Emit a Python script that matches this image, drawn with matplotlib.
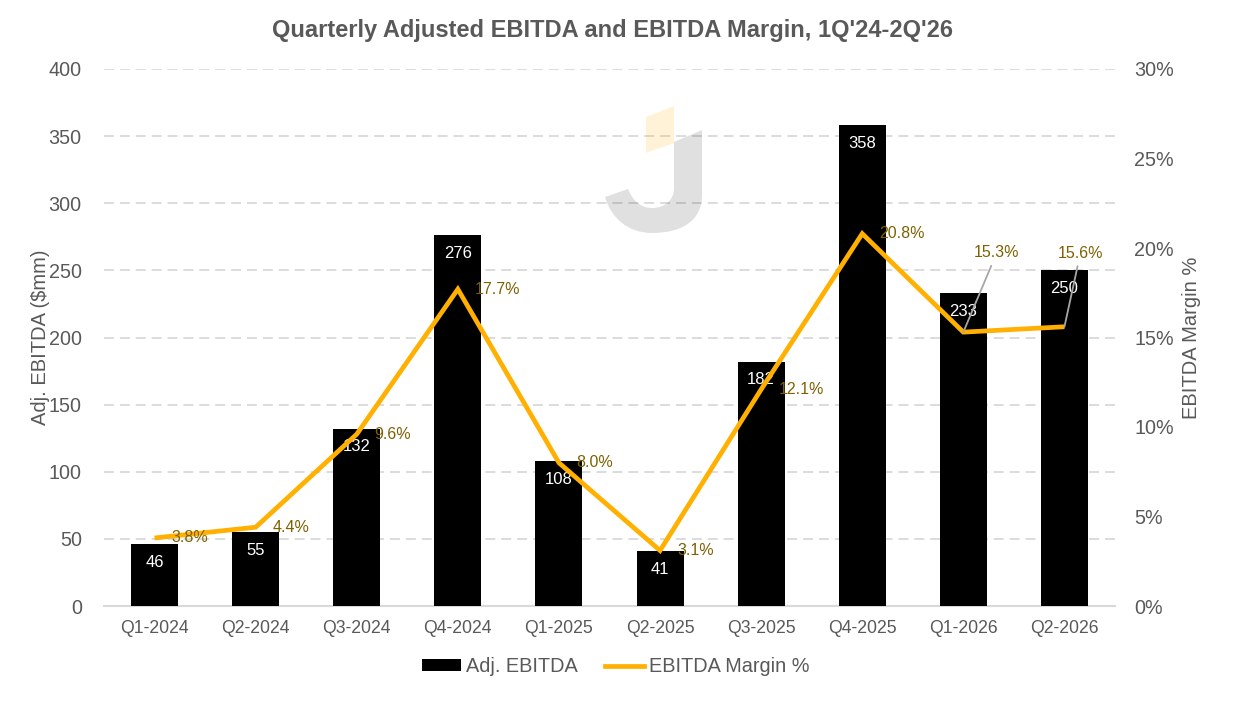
import numpy as np
import matplotlib
matplotlib.use("Agg")
import matplotlib.pyplot as plt
from matplotlib.patches import Patch, PathPatch, Polygon
from matplotlib.lines import Line2D
from matplotlib.path import Path
from matplotlib.ticker import FuncFormatter
import matplotlib.transforms as mtransforms

plt.rcParams['font.family'] = ['Liberation Sans', 'DejaVu Sans']

# Datos
quarters = ["Q1-2024", "Q2-2024", "Q3-2024", "Q4-2024", "Q1-2025",
            "Q2-2025", "Q3-2025", "Q4-2025", "Q1-2026", "Q2-2026"]
ebitda = [46, 55, 132, 276, 108, 41, 182, 358, 233, 250]
margin = [3.8, 4.4, 9.6, 17.7, 8.0, 3.1, 12.1, 20.8, 15.3, 15.6]

GRIS = "#595959"
ORO = "#FFB000"
TXT_PCT = "#7F6000"

W, H = 1239, 704
fig = plt.figure(figsize=(W / 100, H / 100), dpi=100)
ax = fig.add_axes([104 / W, 1 - 606 / H, (1115 - 104) / W, (606 - 69) / H])
ax.set_facecolor("none")
ax2 = ax.twinx()

x = np.arange(len(quarters))
bars = ax.bar(x, ebitda, width=0.465, color="black", zorder=3)

ax.set_xlim(-0.5, len(quarters) - 0.5)
ax.set_ylim(0, 400)
ax.set_yticks(np.arange(0, 401, 50))
ax.set_xticks(x)
ax.set_xticklabels(quarters, fontsize=12.7, color=GRIS)
ax.tick_params(axis="y", labelsize=14.2, labelcolor=GRIS, length=0, pad=16)
ax.tick_params(axis="x", length=0, pad=10)
ax.yaxis.grid(True, color="#D9D9D9", lw=1.3, linestyle=(0, (5.5, 3.3)))
ax.set_axisbelow(True)
for s in ["top", "right", "left"]:
    ax.spines[s].set_visible(False)
ax.spines["bottom"].set_color("#D9D9D9")
ax.spines["bottom"].set_linewidth(1.5)
ax.set_ylabel("Adj. EBITDA ($mm)", fontsize=14.5, color=GRIS)
ax.yaxis.set_label_coords(-0.053, 0.5)

# etiquetas de las barras
for xi, v in zip(x, ebitda):
    ax.annotate(str(v), (xi, v), xytext=(0, -13), textcoords="offset points",
                ha="center", va="center", color="white", fontsize=12, zorder=4)

# linea de margen
ax2.plot(x, [m / 100 for m in margin], color=ORO, lw=3.4, zorder=5,
         solid_joinstyle="miter", solid_capstyle="butt")
ax2.set_ylim(0, 0.30)
ax2.set_yticks(np.arange(0, 0.301, 0.05))
ax2.yaxis.set_major_formatter(FuncFormatter(lambda v, p: "{:.0f}%".format(v * 100)))
ax2.tick_params(axis="y", labelsize=14.2, labelcolor=GRIS, length=0, pad=14)
for s in ["top", "right", "left", "bottom"]:
    ax2.spines[s].set_visible(False)
ax2.set_ylabel("EBITDA Margin %", fontsize=14.5, color=GRIS)
ax2.yaxis.set_label_coords(1.066, 0.5)

for i, m in enumerate(margin):
    if i < 8:
        ax2.annotate("{:.1f}%".format(m), (x[i], m / 100), xytext=(12.5, 0),
                     textcoords="offset points", ha="left", va="center",
                     color=TXT_PCT, fontsize=11.5, zorder=6)

# las dos ultimas con linea guia
guias = {8: (24, 57), 9: (11.5, 53)}
for i, off in guias.items():
    ax2.annotate("{:.1f}%".format(margin[i]), (x[i], margin[i] / 100), xytext=off,
                 textcoords="offset points", ha="center", va="center",
                 color=TXT_PCT, fontsize=11.5, zorder=6,
                 arrowprops=dict(arrowstyle="-", color="#A6A6A6", lw=1.3,
                                 shrinkA=2, shrinkB=0))

fig.text(613 / W, 1 - 31 / H, "Quarterly Adjusted EBITDA and EBITDA Margin, 1Q'24-2Q'26",
         ha="center", va="center", fontsize=17, fontweight="bold", color=GRIS)

handles = [Patch(facecolor="black", edgecolor="none", label="Adj. EBITDA"),
           Line2D([], [], color=ORO, lw=3.4, label="EBITDA Margin %")]
fig.legend(handles=handles, loc="center", bbox_to_anchor=(0.497, 1 - 667 / H), ncol=2,
           frameon=False, fontsize=14.3, labelcolor=GRIS, handlelength=1.95,
           handleheight=0.55, handletextpad=0.25, columnspacing=1.4)

# marca de agua "J"
px = mtransforms.Affine2D().scale(1 / W, -1 / H).translate(0, 1) + fig.transFigure
verts = [(674, 142), (702, 130), (702, 195),
         (702, 222), (680, 233), (652, 233),
         (628, 233), (611, 218), (605, 197),
         (628, 189),
         (633, 201), (641, 208), (652, 208),
         (665, 208), (674, 200), (674, 188),
         (674, 142)]
codes = [Path.MOVETO, Path.LINETO, Path.LINETO,
         Path.CURVE4, Path.CURVE4, Path.CURVE4,
         Path.CURVE4, Path.CURVE4, Path.CURVE4,
         Path.LINETO,
         Path.CURVE4, Path.CURVE4, Path.CURVE4,
         Path.CURVE4, Path.CURVE4, Path.CURVE4,
         Path.CLOSEPOLY]
fig.patches.append(PathPatch(Path(verts, codes), transform=px, facecolor="black",
                             alpha=0.12, edgecolor="none", zorder=10))
fig.patches.append(Polygon([(646, 117), (674, 106), (674, 143), (646, 153)],
                           closed=True, transform=px, facecolor=ORO, alpha=0.16,
                           edgecolor="none", zorder=10))

fig.savefig("out.png", dpi=100)
